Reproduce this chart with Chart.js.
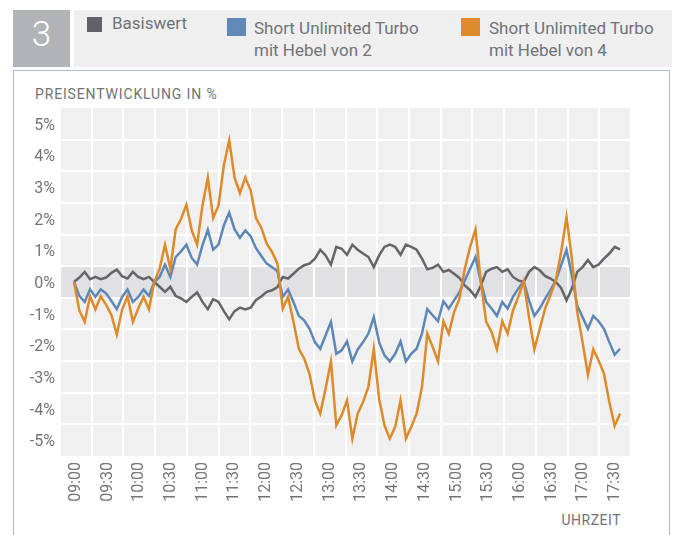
<!DOCTYPE html>
<html><head><meta charset="utf-8">
<script src="https://cdn.jsdelivr.net/npm/chart.js@4.4.0/dist/chart.umd.min.js"></script>
<style>
html,body{margin:0;padding:0;background:#fff;width:676px;height:535px;overflow:hidden;font-family:Roboto,"Noto Sans",sans-serif;}
.abs{position:absolute;}
#num{left:13px;top:10px;width:57px;height:57px;background:#b2b3b7;color:#fff;font-size:35px;font-weight:300;line-height:49px;text-align:center;}
#hdr{left:74px;top:10px;width:598px;height:57px;background:#efefef;}
.lt{position:absolute;color:#707378;font-size:17px;line-height:21.7px;white-space:nowrap;}
#frame{left:13px;top:70px;width:655px;height:480px;border:1px solid #a9bcd9;}
#title{left:35px;top:85.7px;font-size:14px;letter-spacing:0.85px;color:#707378;line-height:17px;white-space:nowrap;}
#xt{right:55px;top:511.7px;font-size:14px;letter-spacing:0.5px;color:#707378;line-height:17px;white-space:nowrap;}
#c{position:absolute;left:0;top:0;}
</style></head>
<body>
<div id="num" class="abs">3</div>
<div id="hdr" class="abs"></div>
<div class="abs" style="left:87px;top:17px;width:15px;height:15px;background:#606269"></div>
<div class="lt" style="left:112px;top:13.3px">Basiswert</div>
<div class="abs" style="left:227px;top:18px;width:19px;height:18px;background:#6089b8"></div>
<div class="lt" style="left:254px;top:18.3px">Short Unlimited Turbo<br>mit Hebel von 2</div>
<div class="abs" style="left:461px;top:18px;width:19px;height:18px;background:#e08a30"></div>
<div class="lt" style="left:489px;top:18.3px">Short Unlimited Turbo<br>mit Hebel von 4</div>
<div id="frame" class="abs"></div>
<div id="title" class="abs">PREISENTWICKLUNG IN %</div>
<div id="xt" class="abs">UHRZEIT</div>
<canvas id="c" width="676" height="535"></canvas>
<script>
const timeLabels = ['09:00','09:30','10:00','10:30','11:00','11:30','12:00','12:30','13:00','13:30','14:00','14:30','15:00','15:30','16:00','16:30','17:00','17:30'];
const yTickValues = [-5,-4,-3,-2,-1,0,1,2,3,4,5];
const seriesNames = ['Basiswert','Short Unlimited Turbo mit Hebel von 2','Short Unlimited Turbo mit Hebel von 4'];

const basiswert = [
 0, .14, .32, .09, .16, .09, .14, .29, .39, .18,
 .11, .32, .16, .09, .16, 0, -.15, -.31, -.15, -.44,
 -.52, -.63, -.47, -.33, -.63, -.86, -.54, -.63, -.92, -1.18,
 -.92, -.81, -.87, -.81, -.57, -.46, -.31, -.26, -.16, .16,
 .11, .26, .42, .53, .58, .74, 1.02, .84, .55, 1.11,
 1.05, .86, 1.18, 1.02, .90, .79, .47, .84, 1.11, 1.18,
 1.11, .86, 1.18, 1.11, 1.02, .74, .40, .45, .55, .32,
 .38, .26, .13, -.11, -.26, -.47, -.11, .32, .42, .47,
 .32, .40, .16, .05, 0, .32, .47, .37, .19, .11,
 0, -.19, -.58, -.21, .32, .47, .69, .47, .55, .74,
 .90, 1.11, 1.03];

const hebel2 = [
 0, -.44, -.63, -.23, -.47, -.23, -.36, -.6, -.86, -.47,
 -.24, -.63, -.47, -.24, -.44, 0, .16, .55, .16, .79,
 .97, 1.18, .76, .55, 1.16, 1.65, 1.02, 1.18, 1.79, 2.19,
 1.66, 1.40, 1.63, 1.45, 1.07, .82, .58, .47, .34, -.47,
 -.24, -.63, -1.07, -1.21, -1.48, -1.9, -2.11, -1.69, -1.26, -2.27,
 -2.16, -1.88, -2.51, -2.13, -1.9, -1.63, -1.11, -1.9, -2.32, -2.51,
 -2.27, -1.88, -2.51, -2.27, -2.11, -1.63, -.86, -1.05, -1.24, -.61,
 -.84, -.58, -.32, .05, .42, .79, 0, -.63, -.84, -1.07,
 -.63, -.84, -.47, -.21, .02, -.58, -1.07, -.84, -.53, -.26,
 .05, .53, 1.02, .21, -.74, -1.11, -1.48, -1.07, -1.24, -1.48,
 -1.9, -2.3, -2.11];

const hebel4 = [
 0, -.9, -1.26, -.45, -.87, -.45, -.72, -1.05, -1.66, -.87,
 -.45, -1.26, -.84, -.47, -.86, 0, .42, 1.18, .42, 1.66,
 2.0, 2.44, 1.63, 1.18, 2.42, 3.3, 2.02, 2.42, 3.69, 4.48,
 3.3, 2.81, 3.3, 2.9, 2.02, 1.71, 1.21, .95, .58, -.84,
 -.47, -1.26, -2.11, -2.42, -2.9, -3.74, -4.16, -3.37, -2.51, -4.53,
 -4.21, -3.74, -4.95, -4.16, -3.79, -3.32, -2.11, -3.69, -4.53, -4.95,
 -4.58, -3.74, -4.95, -4.58, -4.16, -3.32, -1.63, -2.05, -2.51, -1.24,
 -1.63, -.95, -.53, .42, 1.11, 1.66, 0, -1.26, -1.58, -2.13,
 -1.24, -1.63, -.9, -.47, .02, -1.11, -2.13, -1.48, -.84, -.42,
 .05, .95, 2.05, .74, -.95, -1.9, -2.93, -2.13, -2.48, -2.9,
 -3.79, -4.55, -4.16];

const toPts = arr => arr.map((v, i) => ({x: i, y: v}));
const textColor = '#727579';

const bgPlugin = {
  id: 'bg',
  beforeDraw(chart) {
    const {ctx, chartArea: a, scales: {y}} = chart;
    ctx.save();
    ctx.fillStyle = '#f0f0f0';
    ctx.fillRect(a.left, a.top, a.width, a.height);
    const y1 = y.getPixelForValue(0.5), y2 = y.getPixelForValue(-0.5);
    ctx.fillStyle = '#e1e1e3';
    ctx.fillRect(a.left, y1, a.width, y2 - y1);
    ctx.restore();
  }
};

new Chart(document.getElementById('c'), {
  type: 'line',
  data: {
    datasets: [
      {label: seriesNames[2], data: toPts(hebel4), borderColor: '#de8a2b', order: 1},
      {label: seriesNames[1], data: toPts(hebel2), borderColor: '#5d87b7', order: 2},
      {label: seriesNames[0], data: toPts(basiswert), borderColor: '#646568', order: 3}
    ]
  },
  options: {
    responsive: false, animation: false, devicePixelRatio: 1,
    layout: {padding: {top: 108, right: 45, left: 0, bottom: 0}},
    plugins: {legend: {display: false}, tooltip: {enabled: false}},
    elements: {point: {radius: 0}, line: {tension: 0, borderWidth: 2.5, fill: false}},
    scales: {
      x: {type: 'linear', display: false, min: -2.61, max: 104.05},
      xTime: {
        type: 'category', labels: timeLabels, position: 'bottom', offset: true,
        grid: {offset: true, color: '#ffffff', lineWidth: 2, drawTicks: false},
        border: {display: false},
        ticks: {color: textColor, font: {family: 'Roboto', size: 16}, minRotation: 90, maxRotation: 90, padding: 6, autoSkip: false},
        afterFit: s => { s.height = 79; }
      },
      y: {
        type: 'linear', min: -5.5, max: 5.5,
        afterBuildTicks: s => {
          const t = [];
          yTickValues.forEach(v => { t.push({value: v - 0.5}); t.push({value: v}); });
          t.push({value: 5.5});
          s.ticks = t;
        },
        afterFit: s => { s.width = 60; },
        grid: {
          drawTicks: false, lineWidth: 2,
          color: ctx => (ctx.tick && !Number.isInteger(ctx.tick.value) && Math.abs(ctx.tick.value) < 5.4) ? '#ffffff' : 'rgba(0,0,0,0)'
        },
        border: {display: false},
        ticks: {
          autoSkip: false, padding: 5, labelOffset: 2, color: textColor, font: {family: 'Roboto', size: 16},
          callback: v => Number.isInteger(v) ? v + '%' : ''
        }
      }
    }
  },
  plugins: [bgPlugin]
});
</script>
</body></html>
